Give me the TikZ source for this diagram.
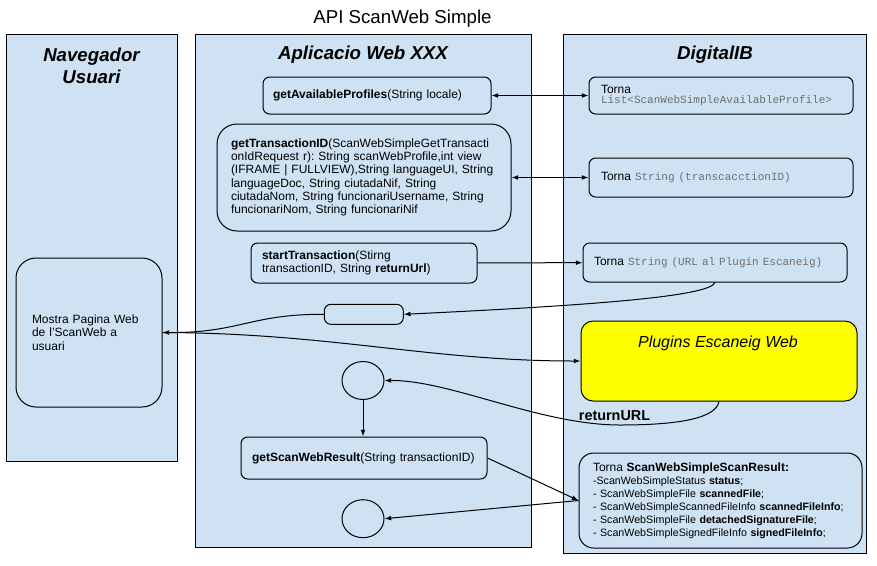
\documentclass[tikz,border=0pt]{standalone}
\usepackage{fontspec}
\setmainfont{Liberation Sans}
\setmonofont{Liberation Mono}
\usetikzlibrary{shapes.geometric,arrows.meta}
\definecolor{lanefill}{HTML}{CFE2F3}
\definecolor{plugyellow}{HTML}{FFFF00}
\definecolor{monogray}{HTML}{6E6E6E}
\newcommand{\mono}[1]{{\color{monogray}\fontsize{8.25}{9}\selectfont\ttfamily #1}}
\frenchspacing

\begin{document}
\begin{tikzpicture}[x=0.75pt,y=0.75pt,yscale=-1,xscale=1,
    line width=0.75pt,
    lane/.style={draw=black, fill=lanefill},
    box/.style={draw, rounded corners=5pt, align=left, inner ysep=0pt, font=\fontsize{9}{10}\selectfont},
    blob/.style={draw, ellipse, minimum width=31.5pt, minimum height=28.5pt, inner sep=0pt},
    head/.style={font=\fontsize{14}{16.5}\selectfont\bfseries\itshape, align=center},
    arr/.style={-{Latex[length=5pt,width=3.6pt]}},
    biarr/.style={{Latex[length=5pt,width=3.6pt]}-{Latex[length=5pt,width=3.6pt]}}
    ]
    \useasboundingbox (0,0) rectangle (877,565);
    
    %Shape: Rectangle [lanes]
    \draw[lane] (6,34) rectangle (177,461);
    \draw[lane] (195,34) rectangle (531,547);
    \draw[lane] (563,34) rectangle (866,553);
    
    % Text Node
    \node[font=\fontsize{14}{16}\selectfont] (title) at (402.5,19) {API ScanWeb Simple};
    % Text Node
    \node[head] (navhead) at (91.5,66) {Navegador\\Usuari};
    % Text Node
    \node[head] (apphead) at (363,55) {Aplicacio Web XXX};
    % Text Node
    \node[head] (dighead) at (715,55) {DigitalIB};
    
    %Rounded Rect [Navegador]
    \node[box, rounded corners=15pt, text width=85.5pt, inner xsep=12pt, minimum height=111.75pt] (mostra) at (89,332.5) {Mostra Pagina Web\\de l’ScanWeb a\\usuari};
    
    %Rounded Rect [Aplicacio]
    \node[box, text width=156pt, inner xsep=7.5pt, minimum height=27.75pt] (avail) at (377,95.5) {\textbf{getAvailableProfiles}(String locale)};
    \node[box, rounded corners=15pt, text width=199.5pt, inner xsep=10.5pt, minimum height=80.25pt] (transid) at (364,177.5) {\textbf{getTransactionID}(ScanWebSimpleGetTransacti\\onIdRequest r): String scanWebProfile,int view\\(IFRAME | FULLVIEW),String languageUI, String\\languageDoc, String ciutadaNif, String\\ciutadaNom, String funcionariUsername, String\\funcionariNom, String funcionariNif};
    \node[box, text width=153pt, inner xsep=8.25pt, minimum height=30pt] (start) at (364,263) {\textbf{startTransaction}(Stirng\\transactionID, String \textbf{returnUrl})};
    \node[box, minimum width=59.25pt, minimum height=15pt, inner sep=0pt] (redir) at (363.8,314.3) {};
    \node[blob] (ret) at (363,380.5) {};
    \node[box, text width=168pt, inner xsep=8.25pt, minimum height=31.5pt] (result) at (364,458) {\textbf{getScanWebResult}(String transactionID)};
    \node[blob] (fin) at (363,518.7) {};
    
    %Rounded Rect [DigitalIB]
    \node[box, text width=180pt, inner xsep=9pt, minimum height=27.75pt] (tlist) at (721,95.5) {Torna\\[-2.5pt]\mono{List<ScanWebSimpleAvailableProfile>}};
    \node[box, text width=180pt, inner xsep=9pt, minimum height=29.25pt] (tid) at (721,177.5) {Torna \mono{String (transcacctionID)}};
    \node[box, text width=181.5pt, inner xsep=8.25pt, minimum height=29.25pt] (turl) at (715,262.5) {Torna \mono{String (URL al Plugin Escaneig)}};
    \node[draw, fill=plugyellow, rounded corners=9pt, minimum width=207pt, minimum height=60pt] (plugins) at (719,361) {};
    % Text Node
    \node[font=\fontsize{12}{14}\selectfont\itshape] (plugtxt) at (718,343) {Plugins Escaneig Web};
    \node[box, rounded corners=11pt, text width=191.25pt, inner xsep=10.5pt, minimum height=71.25pt, font=\fontsize{8}{9.7}\selectfont] (scanres) at (720.5,500.5) {{\fontsize{9}{10}\selectfont Torna \textbf{ScanWebSimpleScanResult:}}\\-ScanWebSimpleStatus \textbf{status};\\- ScanWebSimpleFile \textbf{scannedFile};\\- ScanWebSimpleScannedFileInfo \textbf{scannedFileInfo};\\- ScanWebSimpleFile \textbf{detachedSignatureFile};\\- ScanWebSimpleSignedFileInfo \textbf{signedFileInfo};};
    % Text Node
    \node[font=\fontsize{10.8}{12}\selectfont\bfseries] (retlbl) at (614.5,416) {returnURL};
    
    %Straight Lines
    \draw[biarr] (avail) -- (tlist);
    \draw[biarr] (transid) -- (tid);
    \draw[arr] (start) -- (turl);
    %Curve Lines
    \draw[arr] (turl.south) .. controls (710,296) and (600,305) .. (redir.east);
    \draw[arr] (redir.west) .. controls (250,314) and (240,333) .. (mostra.east);
    \draw[arr] (mostra.east) .. controls (330,333) and (430,361) .. (plugins.west);
    \draw[arr] (plugins.south) .. controls (716,418) and (680,425) .. (620,425) .. controls (540,425) and (450,380) .. (ret.east);
    %Straight Lines
    \draw[arr] (ret.south) -- (ret.south |- result.north);
    \draw[arr] (result.east) -- (scanres.west);
    \draw[arr] (scanres.west) -- (fin.east);
\end{tikzpicture}
\end{document}
